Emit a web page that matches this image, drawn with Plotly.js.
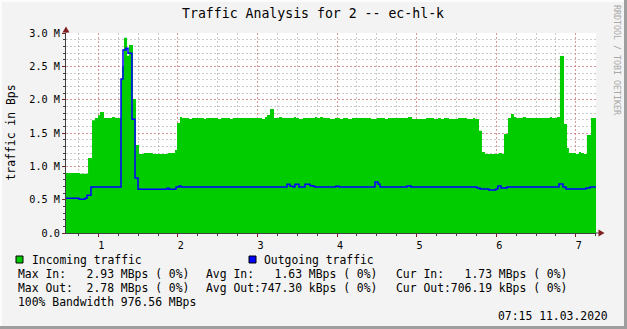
<!DOCTYPE html>
<html>
<head>
<meta charset="utf-8">
<script src="https://cdn.plot.ly/plotly-3.0.1.min.js"></script>
<style>
html,body{margin:0;padding:0;background:#F3F3F3;}
#chart{width:627px;height:329px;}
</style>
</head>
<body>
<div id="chart"></div>
<script>
// ---- DATA (values in MBps, x in axis units; last point closes the final step) ----
const xTickVals = [1, 2, 3, 4, 5, 6, 7];
const xTickText = ["1", "2", "3", "4", "5", "6", "7"];
const yTickVals = [0, 0.5, 1.0, 1.5, 2.0, 2.5, 3.0];
const yTickText = ["0.0", "0.5 M", "1.0 M", "1.5 M", "2.0 M", "2.5 M", "3.0 M"];

const inX = [0.594, 0.770, 0.871, 0.921, 0.959, 0.996, 1.021, 1.072, 1.172, 1.210,
  1.285, 1.298, 1.323, 1.361, 1.386, 1.436, 1.474, 1.511, 1.574, 1.687,
  1.876, 1.964, 1.989, 2.026, 2.052, 2.139, 2.177, 2.328, 2.353, 2.504,
  2.541, 2.655, 2.692, 3.057, 3.094, 3.119, 3.157, 3.207, 3.270, 3.308,
  3.459, 3.484, 3.521, 3.572, 3.722, 3.747, 3.785, 3.823, 3.911, 3.974,
  4.036, 4.074, 4.137, 4.187, 4.426, 4.501, 4.602, 4.639, 4.891, 4.941,
  5.117, 5.217, 5.268, 5.305, 5.343, 5.406, 5.519, 5.632, 5.707, 5.732,
  5.783, 5.820, 5.858, 6.034, 6.072, 6.097, 6.147, 6.185, 6.222, 6.248,
  6.335, 6.373, 6.675, 6.700, 6.763, 6.800, 6.851, 6.889, 6.913, 7.001,
  7.039, 7.064, 7.102, 7.139, 7.190, 7.253];
const inMBps = [0.90, 0.89, 1.125, 1.69, 1.725, 1.765, 1.815, 1.725, 1.74, 1.725,
  2.31, 2.50, 2.93, 2.66, 2.82, 2.01, 1.32, 1.185, 1.20, 1.185,
  1.20, 1.245, 1.65, 1.74, 1.725, 1.71, 1.725, 1.71, 1.725, 1.71,
  1.725, 1.71, 1.725, 1.71, 1.74, 1.77, 1.86, 1.725, 1.74, 1.725,
  1.74, 1.725, 1.71, 1.725, 1.74, 1.725, 1.74, 1.725, 1.71, 1.725,
  1.71, 1.725, 1.71, 1.725, 1.71, 1.725, 1.71, 1.725, 1.74, 1.71,
  1.725, 1.71, 1.725, 1.71, 1.725, 1.71, 1.725, 1.71, 1.725, 1.71,
  1.535, 1.215, 1.185, 1.20, 1.185, 1.485, 1.725, 1.785, 1.74, 1.725,
  1.74, 1.725, 1.74, 1.725, 1.74, 2.655, 1.635, 1.275, 1.20, 1.185,
  1.215, 1.20, 1.185, 1.47, 1.725, 1.725];

const outX = [0.594, 0.758, 0.833, 0.858, 0.908, 1.285, 1.310, 1.348, 1.373, 1.423,
  1.461, 1.499, 1.863, 1.888, 1.976, 2.014, 2.039, 3.371, 3.408, 3.446,
  3.471, 3.521, 3.597, 3.660, 3.697, 3.722, 3.986, 4.024, 4.476, 4.514,
  4.539, 4.878, 4.928, 5.758, 5.795, 5.908, 5.996, 6.021, 6.059, 6.134,
  6.788, 6.838, 6.876, 7.127, 7.177, 7.253];
const outMBps = [0.52, 0.505, 0.52, 0.565, 0.69, 2.31, 2.745, 2.77, 2.695, 1.705,
  0.825, 0.655, 0.67, 0.655, 0.69, 0.705, 0.69, 0.73, 0.70, 0.69,
  0.73, 0.69, 0.73, 0.71, 0.70, 0.69, 0.70, 0.69, 0.765, 0.73,
  0.69, 0.705, 0.69, 0.675, 0.66, 0.645, 0.66, 0.705, 0.675, 0.69,
  0.735, 0.69, 0.66, 0.675, 0.69, 0.69];

const titleText = "Traffic Analysis for 2 -- ec-hl-k";
const yTitleText = "traffic in Bps";
const legendIn = "Incoming traffic";
const legendOut = "Outgoing traffic";
const statRows = [
  ["Max In:   2.93 MBps ( 0%)", "Avg In:   1.63 MBps ( 0%)", "Cur In:   1.73 MBps ( 0%)"],
  ["Max Out:  2.78 MBps ( 0%)", "Avg Out:747.30 kBps ( 0%)", "Cur Out:706.19 kBps ( 0%)"]
];
const bandwidthText = "100% Bandwidth 976.56 MBps";
const dateText = "07:15 11.03.2020";
const watermark = "RRDTOOL / TOBI OETIKER";

// ---- LAYOUT GEOMETRY ----
const W = 627, H = 329;
const L = 66, R = 596, T = 33, B = 233;
const pw = R - L, ph = B - T;
const px = x => (x - L) / pw;
const py = y => (B - y) / ph;
const MONO = "DejaVu Sans Mono, monospace";

const traces = [
  {
    x: inX, y: inMBps, type: "scatter", mode: "lines",
    line: {shape: "hv", width: 0, color: "#00CC00"},
    fill: "tozeroy", fillcolor: "#00CC00", hoverinfo: "skip", showlegend: false
  },
  {
    x: outX, y: outMBps, type: "scatter", mode: "lines",
    line: {shape: "hv", width: 1.5, color: "#0000FF"},
    hoverinfo: "skip", showlegend: false
  }
];

const majorGrid = "rgba(225,110,110,0.55)";
const minorGrid = "rgba(150,150,150,0.5)";
const dash = "2px,2px";

const annotations = [];
function txt(text, x, y, opts) {
  annotations.push(Object.assign({
    text: text, xref: "paper", yref: "paper", x: px(x), y: py(y),
    xanchor: "left", yanchor: "middle", showarrow: false,
    font: {family: MONO, size: 11.4, color: "#000000"}
  }, opts || {}));
}
txt(titleText, 312.5, 13.5, {xanchor: "center", font: {family: MONO, size: 13.2, color: "#000"}});
txt(yTitleText, 10.5, 133, {xanchor: "center", textangle: -90});
txt(watermark, 617, 60, {xanchor: "center", textangle: 90, font: {family: MONO, size: 8.3, color: "#A8A8A8"}});
txt(legendIn, 30, 259.5);
txt(legendOut, 262, 259.5);
const colX = [16, 204, 394];
statRows.forEach((row, i) => row.forEach((s, j) => txt(s, colX[j], 273.5 + i * 14.3)));
txt(bandwidthText, 16, 302);
txt(dateText, 610, 316, {xanchor: "right"});

const shapes = [
  // frame
  {type: "rect", xref: "paper", yref: "paper", x0: px(624), x1: px(630), y0: py(-2), y1: py(332), fillcolor: "#9E9E9E", line: {width: 0}, layer: "below"},
  {type: "rect", xref: "paper", yref: "paper", x0: px(-2), x1: px(630), y0: py(326), y1: py(332), fillcolor: "#9E9E9E", line: {width: 0}, layer: "below"},
  {type: "rect", xref: "paper", yref: "paper", x0: px(-2), x1: px(2), y0: py(-2), y1: py(326), fillcolor: "#FCFCFC", line: {width: 0}, layer: "below"},
  {type: "rect", xref: "paper", yref: "paper", x0: px(-2), x1: px(624), y0: py(-2), y1: py(2), fillcolor: "#FCFCFC", line: {width: 0}, layer: "below"},
  // legend swatches
  {type: "rect", xref: "paper", yref: "paper", x0: px(16), x1: px(23), y0: py(256), y1: py(263), fillcolor: "#00CC00", line: {width: 1, color: "#000"}},
  {type: "rect", xref: "paper", yref: "paper", x0: px(249), x1: px(256), y0: py(256), y1: py(263), fillcolor: "#0000FF", line: {width: 1, color: "#000"}},
  // axis extensions and arrows
  {type: "line", xref: "paper", yref: "paper", x0: px(596), x1: px(600), y0: 0, y1: 0, line: {width: 1, color: "#404040"}},
  {type: "line", xref: "paper", yref: "paper", x0: 0, x1: 0, y0: 1, y1: py(29), line: {width: 1, color: "#404040"}},
  {type: "path", xref: "paper", yref: "paper",
   path: `M ${px(598.5)} ${py(229.5)} L ${px(604.5)} ${py(233)} L ${px(598.5)} ${py(236.5)} Z`,
   fillcolor: "#7F1F1F", line: {width: 0}},
  {type: "path", xref: "paper", yref: "paper",
   path: `M ${px(62.5)} ${py(32.5)} L ${px(66)} ${py(26.5)} L ${px(69.5)} ${py(32.5)} Z`,
   fillcolor: "#7F1F1F", line: {width: 0}}
];

const layout = {
  width: W, height: H,
  margin: {l: L, r: W - R, t: T, b: H - B, pad: 0},
  paper_bgcolor: "#F3F3F3", plot_bgcolor: "#FFFFFF",
  showlegend: false,
  font: {family: MONO, size: 10.2, color: "#000"},
  xaxis: {
    range: [0.594, 7.253], tickvals: xTickVals, ticktext: xTickText,
    showgrid: true, gridcolor: majorGrid, griddash: dash, gridwidth: 1,
    zeroline: false, showline: true, linecolor: "#404040", linewidth: 1,
    ticks: "outside", ticklen: 3, tickcolor: "#7F1F1F",
    tickfont: {family: MONO, size: 10.2, color: "#000"},
    ticklabelshift: 3,
    minor: {dtick: 0.25, tick0: 0, showgrid: true, gridcolor: minorGrid, griddash: dash, ticks: "outside", ticklen: 2, tickcolor: "#404040"},
    fixedrange: true, layer: "above traces"
  },
  yaxis: {
    range: [0, 3.0], tickvals: yTickVals, ticktext: yTickText,
    showgrid: true, gridcolor: majorGrid, griddash: dash, gridwidth: 1,
    zeroline: false, showline: true, linecolor: "#404040", linewidth: 1,
    ticks: "outside", ticklen: 3, tickcolor: "#7F1F1F",
    tickfont: {family: MONO, size: 10.2, color: "#000"},
    minor: {dtick: 0.1, tick0: 0, showgrid: true, gridcolor: minorGrid, griddash: dash, ticks: "outside", ticklen: 2, tickcolor: "#404040"},
    fixedrange: true, layer: "above traces"
  },
  annotations: annotations,
  shapes: shapes
};

Plotly.newPlot("chart", traces, layout, {displayModeBar: false, staticPlot: true});
</script>
</body>
</html>
